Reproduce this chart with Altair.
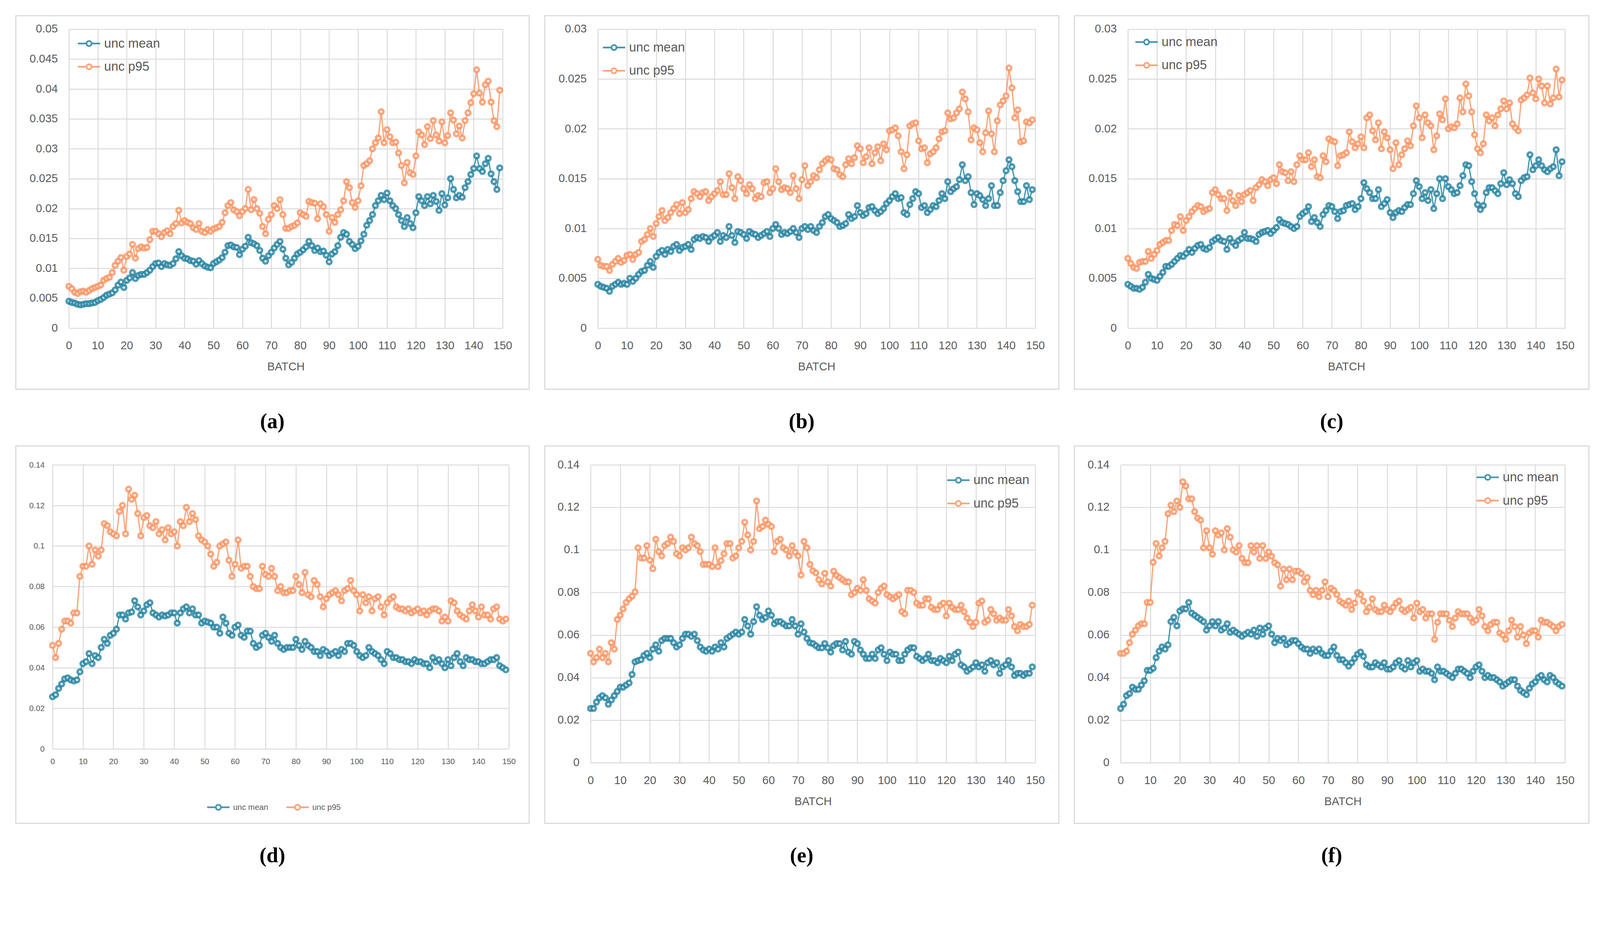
import altair as alt
import pandas as pd

BATCH = list(range(150))
SERIES = ["unc mean", "unc p95"]
X_TICKS = [0, 10, 20, 30, 40, 50, 60, 70, 80, 90, 100, 110, 120, 130, 140, 150]
Y_TICKS_A = [0, 0.005, 0.01, 0.015, 0.02, 0.025, 0.03, 0.035, 0.04, 0.045, 0.05]
Y_TICKS_B = [0, 0.005, 0.01, 0.015, 0.02, 0.025, 0.03]
Y_TICKS_D = [0, 0.02, 0.04, 0.06, 0.08, 0.1, 0.12, 0.14]
LABELS = ["(a)", "(b)", "(c)", "(d)", "(e)", "(f)"]

A_MEAN = [
    .0045, .0043, .0042, .0040, .0039, .0040, .0041, .0041, .0042, .0043,
    .0046, .0048, .0051, .0055, .0057, .0059, .0064, .0072, .0077, .0068,
    .0080, .0084, .0093, .0083, .0088, .0090, .0090, .0093, .0097, .0103,
    .0108, .0109, .0103, .0108, .0106, .0105, .0108, .0116, .0128, .0121,
    .0117, .0116, .0113, .0112, .0107, .0113, .0108, .0104, .0102, .0101,
    .0108, .0111, .0114, .0118, .0127, .0138, .0139, .0136, .0135, .0123,
    .0132, .0137, .0152, .0143, .0141, .0138, .0130, .0117, .0112, .0121,
    .0127, .0134, .0140, .0145, .0132, .0117, .0106, .0110, .0117, .0124,
    .0127, .0131, .0136, .0145, .0138, .0130, .0134, .0128, .0129, .0122,
    .0111, .0124, .0128, .0138, .0152, .0160, .0157, .0145, .0140, .0133,
    .0137, .0146, .0157, .0172, .0180, .0190, .0205, .0213, .0222, .0215,
    .0226, .0213, .0205, .0200, .0190, .0180, .0170, .0185, .0175, .0168,
    .0193, .0220, .0213, .0205, .0220, .0208, .0222, .0212, .0197, .0225,
    .0206, .0218, .0250, .0232, .0218, .0222, .0219, .0235, .0245, .0257,
    .0267, .0288, .0267, .0262, .0275, .0284, .0258, .0245, .0232, .0268,
]
A_P95 = [
    .0070, .0066, .0060, .0058, .0061, .0062, .0060, .0063, .0066, .0068,
    .0070, .0072, .0080, .0083, .0085, .0093, .0105, .0112, .0118, .0097,
    .0120, .0124, .0140, .0117, .0133, .0136, .0134, .0135, .0148, .0162,
    .0162, .0158, .0153, .0160, .0163, .0158, .0170, .0175, .0197, .0176,
    .0180, .0177, .0175, .0168, .0165, .0175, .0162, .0160, .0165, .0162,
    .0166, .0168, .0170, .0177, .0193, .0205, .0210, .0198, .0195, .0188,
    .0195, .0200, .0232, .0198, .0215, .0200, .0192, .0170, .0158, .0182,
    .0190, .0205, .0200, .0215, .0190, .0167, .0167, .0170, .0172, .0176,
    .0193, .0190, .0187, .0212, .0210, .0209, .0183, .0208, .0203, .0190,
    .0162, .0185, .0177, .0190, .0198, .0213, .0245, .0235, .0210, .0202,
    .0213, .0238, .0272, .0275, .0280, .0300, .0310, .0318, .0362, .0310,
    .0332, .0320, .0310, .0311, .0293, .0272, .0243, .0277, .0260, .0257,
    .0288, .0328, .0323, .0307, .0337, .0317, .0347, .0323, .0313, .0345,
    .0310, .0322, .0360, .0348, .0325, .0338, .0318, .0347, .0360, .0377,
    .0392, .0432, .0393, .0378, .0407, .0413, .0378, .0347, .0337, .0398,
]
B_MEAN = [
    .0044, .0042, .0041, .0040, .0037, .0042, .0044, .0046, .0044, .0045,
    .0044, .0050, .0047, .0050, .0054, .0057, .0058, .0063, .0067, .0061,
    .0072, .0076, .0078, .0074, .0079, .0077, .0082, .0084, .0078, .0081,
    .0082, .0084, .0079, .0089, .0091, .0090, .0092, .0091, .0087, .0091,
    .0093, .0096, .0087, .0093, .0091, .0102, .0093, .0086, .0097, .0096,
    .0094, .0090, .0097, .0095, .0094, .0091, .0093, .0095, .0097, .0092,
    .0100, .0104, .0100, .0094, .0096, .0095, .0097, .0100, .0096, .0091,
    .0100, .0102, .0099, .0102, .0098, .0096, .0102, .0106, .0112, .0114,
    .0110, .0108, .0106, .0102, .0103, .0105, .0114, .0110, .0112, .0123,
    .0116, .0113, .0115, .0121, .0122, .0118, .0115, .0117, .0120, .0125,
    .0128, .0132, .0135, .0130, .0131, .0116, .0114, .0124, .0130, .0137,
    .0135, .0121, .0123, .0116, .0119, .0123, .0122, .0128, .0135, .0130,
    .0147, .0137, .0140, .0142, .0149, .0164, .0148, .0152, .0136, .0124,
    .0135, .0133, .0129, .0123, .0130, .0143, .0123, .0123, .0136, .0148,
    .0158, .0169, .0162, .0148, .0137, .0127, .0127, .0143, .0129, .0139,
]
B_P95 = [
    .0069, .0063, .0062, .0062, .0058, .0064, .0067, .0070, .0066, .0068,
    .0073, .0074, .0069, .0074, .0076, .0087, .0089, .0094, .0100, .0092,
    .0105, .0112, .0118, .0108, .0111, .0116, .0120, .0124, .0115, .0126,
    .0116, .0119, .0130, .0137, .0135, .0132, .0136, .0137, .0128, .0132,
    .0135, .0138, .0147, .0134, .0134, .0155, .0141, .0130, .0152, .0148,
    .0140, .0135, .0144, .0140, .0130, .0133, .0132, .0146, .0147, .0136,
    .0140, .0160, .0147, .0139, .0141, .0140, .0136, .0153, .0140, .0130,
    .0149, .0163, .0143, .0147, .0153, .0151, .0159, .0165, .0168, .0170,
    .0169, .0160, .0159, .0154, .0152, .0164, .0170, .0165, .0171, .0183,
    .0180, .0166, .0172, .0181, .0165, .0176, .0182, .0168, .0185, .0179,
    .0198, .0199, .0201, .0193, .0177, .0160, .0174, .0203, .0205, .0206,
    .0188, .0180, .0181, .0166, .0175, .0177, .0181, .0190, .0197, .0198,
    .0216, .0210, .0211, .0216, .0220, .0237, .0230, .0217, .0189, .0201,
    .0199, .0186, .0177, .0196, .0218, .0195, .0177, .0208, .0224, .0228,
    .0233, .0261, .0241, .0211, .0219, .0187, .0188, .0207, .0206, .0209,
]
C_MEAN = [
    .0044, .0042, .0040, .0040, .0039, .0041, .0046, .0054, .0050, .0049,
    .0048, .0052, .0056, .0062, .0062, .0064, .0067, .0070, .0073, .0072,
    .0075, .0079, .0076, .0080, .0083, .0084, .0080, .0079, .0081, .0087,
    .0089, .0091, .0088, .0087, .0079, .0090, .0086, .0083, .0088, .0090,
    .0096, .0090, .0090, .0089, .0087, .0094, .0096, .0097, .0098, .0095,
    .0098, .0101, .0109, .0106, .0105, .0104, .0102, .0100, .0102, .0112,
    .0115, .0117, .0122, .0107, .0111, .0106, .0102, .0114, .0118, .0123,
    .0122, .0117, .0110, .0117, .0118, .0123, .0124, .0125, .0119, .0122,
    .0130, .0146, .0140, .0136, .0130, .0130, .0139, .0122, .0125, .0129,
    .0116, .0111, .0116, .0118, .0117, .0121, .0124, .0124, .0135, .0148,
    .0142, .0130, .0136, .0128, .0139, .0120, .0135, .0150, .0130, .0150,
    .0142, .0139, .0135, .0136, .0143, .0153, .0164, .0163, .0147, .0135,
    .0124, .0119, .0123, .0136, .0141, .0141, .0138, .0135, .0145, .0156,
    .0144, .0149, .0145, .0135, .0132, .0148, .0151, .0152, .0174, .0159,
    .0163, .0169, .0163, .0159, .0157, .0160, .0162, .0179, .0153, .0167,
]
C_P95 = [
    .0070, .0065, .0061, .0060, .0066, .0067, .0067, .0077, .0070, .0074,
    .0078, .0084, .0086, .0088, .0088, .0098, .0104, .0103, .0112, .0098,
    .0108, .0112, .0117, .0120, .0123, .0122, .0117, .0119, .0120, .0136,
    .0139, .0134, .0130, .0130, .0118, .0136, .0128, .0123, .0133, .0127,
    .0134, .0136, .0138, .0128, .0141, .0144, .0149, .0147, .0143, .0149,
    .0151, .0145, .0164, .0157, .0156, .0148, .0157, .0147, .0164, .0173,
    .0169, .0169, .0176, .0162, .0169, .0152, .0151, .0173, .0167, .0190,
    .0188, .0187, .0163, .0173, .0174, .0176, .0197, .0187, .0181, .0185,
    .0192, .0181, .0211, .0214, .0198, .0189, .0206, .0180, .0197, .0191,
    .0179, .0160, .0186, .0164, .0174, .0180, .0188, .0183, .0203, .0223,
    .0211, .0191, .0214, .0206, .0203, .0179, .0193, .0215, .0209, .0230,
    .0200, .0202, .0201, .0205, .0231, .0217, .0245, .0233, .0217, .0194,
    .0180, .0176, .0185, .0214, .0208, .0211, .0203, .0214, .0220, .0228,
    .0220, .0226, .0205, .0201, .0198, .0229, .0231, .0234, .0251, .0236,
    .0230, .0250, .0243, .0226, .0243, .0225, .0231, .0260, .0232, .0249,
]
D_MEAN = [
    .0257, .0267, .0298, .0320, .0345, .0350, .0340, .0335, .0340, .0380,
    .0420, .0430, .0470, .0420, .0460, .0450, .0500, .0540, .0520, .0560,
    .0570, .0590, .0660, .0660, .0640, .0670, .0675, .0730, .0700, .0660,
    .0680, .0710, .0720, .0670, .0660, .0650, .0660, .0655, .0660, .0670,
    .0670, .0620, .0670, .0690, .0700, .0670, .0690, .0660, .0660, .0620,
    .0630, .0625, .0620, .0600, .0600, .0570, .0650, .0620, .0570, .0560,
    .0600, .0610, .0560, .0550, .0580, .0580, .0520, .0500, .0510, .0560,
    .0570, .0550, .0530, .0560, .0520, .0500, .0490, .0500, .0500, .0500,
    .0540, .0510, .0490, .0530, .0510, .0500, .0480, .0480, .0460, .0490,
    .0480, .0460, .0470, .0480, .0460, .0490, .0480, .0520, .0520, .0510,
    .0480, .0460, .0450, .0460, .0500, .0480, .0470, .0460, .0440, .0420,
    .0480, .0470, .0450, .0450, .0440, .0440, .0430, .0430, .0420, .0440,
    .0430, .0430, .0420, .0420, .0400, .0450, .0430, .0440, .0420, .0400,
    .0440, .0410, .0450, .0470, .0430, .0410, .0450, .0440, .0440, .0430,
    .0430, .0420, .0420, .0430, .0440, .0440, .0450, .0410, .0400, .0390,
]
D_P95 = [
    .0510, .0450, .0520, .0590, .0630, .0630, .0620, .0670, .0670, .0850,
    .0900, .0900, .1000, .0910, .0980, .0950, .0980, .1110, .1100, .1070,
    .1060, .1050, .1170, .1200, .1060, .1280, .1230, .1250, .1160, .1050,
    .1140, .1150, .1100, .1090, .1120, .1060, .1080, .1030, .1090, .1060,
    .1070, .1000, .1120, .1100, .1190, .1120, .1160, .1130, .1050, .1030,
    .1020, .1000, .0960, .0900, .0920, .1000, .1010, .1020, .0930, .0850,
    .0910, .1030, .0890, .0900, .0900, .0850, .0800, .0790, .0790, .0900,
    .0860, .0850, .0890, .0850, .0780, .0800, .0770, .0770, .0780, .0780,
    .0850, .0810, .0770, .0870, .0760, .0750, .0830, .0810, .0750, .0700,
    .0740, .0760, .0770, .0780, .0760, .0730, .0780, .0790, .0830, .0780,
    .0760, .0680, .0760, .0720, .0750, .0680, .0740, .0750, .0700, .0660,
    .0720, .0740, .0750, .0700, .0690, .0690, .0680, .0690, .0670, .0680,
    .0690, .0670, .0680, .0660, .0680, .0690, .0690, .0680, .0630, .0650,
    .0630, .0730, .0720, .0680, .0660, .0650, .0640, .0680, .0710, .0680,
    .0650, .0700, .0660, .0660, .0640, .0690, .0700, .0640, .0630, .0640,
]
E_MEAN = [
    .0255, .0255, .0285, .0305, .0315, .0305, .0275, .0295, .0315, .0335,
    .0355, .0355, .0365, .0375, .0415, .0474, .0480, .0484, .0504, .0514,
    .0494, .0534, .0554, .0524, .0574, .0584, .0584, .0584, .0564, .0544,
    .0554, .0584, .0604, .0604, .0594, .0604, .0574, .0544, .0530, .0524,
    .0534, .0524, .0544, .0534, .0564, .0544, .0584, .0594, .0604, .0614,
    .0604, .0614, .0673, .0643, .0604, .0663, .0733, .0693, .0673, .0683,
    .0713, .0693, .0653, .0663, .0663, .0653, .0643, .0643, .0673, .0643,
    .0604, .0653, .0614, .0584, .0564, .0560, .0550, .0540, .0540, .0560,
    .0540, .0520, .0550, .0560, .0560, .0530, .0570, .0520, .0510, .0570,
    .0560, .0530, .0510, .0490, .0490, .0510, .0490, .0530, .0540, .0510,
    .0480, .0520, .0510, .0510, .0480, .0480, .0510, .0530, .0540, .0540,
    .0500, .0490, .0480, .0490, .0510, .0480, .0480, .0470, .0490, .0480,
    .0470, .0500, .0480, .0510, .0520, .0460, .0450, .0430, .0440, .0450,
    .0470, .0450, .0460, .0430, .0470, .0480, .0460, .0470, .0420, .0450,
    .0460, .0480, .0450, .0410, .0420, .0420, .0410, .0420, .0420, .0450,
]
E_P95 = [
    .0514, .0474, .0494, .0534, .0494, .0514, .0474, .0564, .0534, .0673,
    .0693, .0723, .0753, .0770, .0783, .0803, .1010, .0962, .0962, .1020,
    .0952, .0912, .1050, .0992, .0972, .1020, .1030, .1060, .1040, .0982,
    .0972, .1010, .1000, .1010, .1060, .1030, .1020, .0992, .0932, .0932,
    .0932, .0922, .1010, .0922, .0950, .0982, .1030, .1030, .0962, .0972,
    .1010, .1040, .1130, .1070, .1000, .1040, .1230, .1100, .1110, .1140,
    .1120, .1110, .0992, .1040, .1050, .1010, .1000, .0972, .1020, .0990,
    .0972, .0882, .1040, .1010, .0932, .0902, .0892, .0860, .0840, .0890,
    .0850, .0830, .0900, .0880, .0870, .0860, .0850, .0850, .0790, .0800,
    .0820, .0810, .0860, .0810, .0770, .0760, .0750, .0800, .0820, .0830,
    .0790, .0780, .0770, .0780, .0790, .0710, .0700, .0810, .0810, .0800,
    .0750, .0740, .0740, .0770, .0770, .0730, .0720, .0720, .0740, .0750,
    .0690, .0750, .0730, .0720, .0720, .0740, .0710, .0680, .0660, .0640,
    .0660, .0750, .0760, .0660, .0670, .0720, .0700, .0670, .0680, .0670,
    .0670, .0720, .0690, .0640, .0620, .0650, .0640, .0640, .0650, .0740,
]
F_MEAN = [
    .0255, .0275, .0315, .0325, .0355, .0345, .0345, .0365, .0385, .0434,
    .0434, .0444, .0494, .0524, .0544, .0534, .0554, .0663, .0683, .0643,
    .0713, .0723, .0723, .0753, .0703, .0693, .0683, .0673, .0663, .0623,
    .0643, .0663, .0643, .0663, .0623, .0633, .0653, .0613, .0623, .0613,
    .0604, .0594, .0604, .0613, .0604, .0623, .0594, .0633, .0604, .0633,
    .0643, .0604, .0564, .0584, .0574, .0584, .0554, .0564, .0574, .0574,
    .0560, .0544, .0534, .0534, .0514, .0534, .0524, .0534, .0514, .0504,
    .0504, .0524, .0544, .0504, .0484, .0484, .0470, .0454, .0470, .0490,
    .0510, .0520, .0500, .0460, .0450, .0450, .0470, .0460, .0450, .0470,
    .0440, .0440, .0450, .0470, .0480, .0450, .0440, .0480, .0450, .0470,
    .0480, .0430, .0440, .0430, .0430, .0420, .0390, .0450, .0430, .0430,
    .0420, .0410, .0400, .0420, .0440, .0440, .0430, .0420, .0400, .0430,
    .0450, .0460, .0430, .0400, .0410, .0400, .0400, .0390, .0380, .0360,
    .0370, .0380, .0390, .0390, .0360, .0340, .0330, .0320, .0350, .0370,
    .0380, .0400, .0410, .0390, .0380, .0410, .0400, .0380, .0370, .0360,
]
F_P95 = [
    .0514, .0514, .0524, .0564, .0604, .0623, .0643, .0653, .0653, .0753,
    .0753, .0942, .1030, .0972, .1010, .1040, .1170, .1210, .1180, .1230,
    .1200, .1320, .1300, .1240, .1240, .1180, .1150, .1140, .1010, .1090,
    .1010, .0980, .1090, .1070, .1080, .1000, .1100, .1060, .1000, .0990,
    .1020, .0960, .0940, .0940, .1020, .0990, .1020, .0960, .1020, .0960,
    .0990, .0970, .0940, .0930, .0830, .0910, .0860, .0910, .0860, .0900,
    .0900, .0890, .0850, .0870, .0810, .0790, .0810, .0780, .0810, .0850,
    .0780, .0820, .0810, .0790, .0760, .0750, .0740, .0760, .0720, .0750,
    .0800, .0790, .0760, .0710, .0730, .0770, .0720, .0710, .0710, .0740,
    .0720, .0710, .0730, .0750, .0760, .0720, .0710, .0720, .0730, .0680,
    .0750, .0710, .0720, .0680, .0700, .0700, .0580, .0660, .0700, .0700,
    .0700, .0670, .0640, .0680, .0710, .0700, .0700, .0700, .0680, .0660,
    .0670, .0720, .0690, .0640, .0620, .0650, .0660, .0660, .0610, .0600,
    .0580, .0620, .0670, .0640, .0590, .0640, .0600, .0560, .0610, .0620,
    .0620, .0590, .0670, .0660, .0660, .0650, .0640, .0620, .0640, .0650,
]

TEAL = "#3089A6"
ORANGE = "#FB9A6A"
GRID = "#D9D9D9"
TXT = "#595959"
SANS = "Liberation Sans"
SERIF = "Liberation Serif"
SYMBOL = "M-2.2,0H-0.5M0.5,0H2.2M0.5,0A0.5,0.5,0,1,1,-0.5,0A0.5,0.5,0,1,1,0.5,0"


def make_panel(mean, p95, y_max, y_ticks, w, h, box, label, label_xy,
               leg, fs, xtitle):
    n = len(BATCH)
    df = pd.DataFrame({
        "BATCH": BATCH + BATCH,
        "value": mean + p95,
        "series": [SERIES[0]] * n + [SERIES[1]] * n,
    })
    legend = alt.Legend(
        title=None, orient="none", legendX=leg["x"], legendY=leg["y"],
        direction=leg["dir"], columns=leg["cols"], symbolType=SYMBOL,
        symbolSize=784, symbolStrokeWidth=4.5, symbolFillColor="white",
        labelFont=SANS, labelFontSize=leg["fs"], labelColor=TXT,
        labelOffset=24, rowPadding=leg["rowpad"], columnPadding=leg["colpad"],
        padding=0, symbolOpacity=0.9,
    )
    color = alt.Color("series:N", legend=legend,
                      scale=alt.Scale(domain=SERIES, range=[TEAL, ORANGE]))
    xaxis = alt.Axis(values=X_TICKS, grid=True, gridColor=GRID, gridWidth=2.5,
                     domain=False, ticks=False, labelFont=SANS, labelFontSize=fs,
                     labelColor=TXT, labelPadding=fs * 1.1, title=xtitle,
                     titleFont=SANS, titleFontSize=fs, titleFontWeight="normal",
                     titleColor=TXT, titlePadding=fs * 0.9, labelFlush=False)
    yaxis = alt.Axis(values=y_ticks, grid=True, gridColor=GRID, gridWidth=2.5,
                     domain=False, ticks=False, labelFont=SANS, labelFontSize=fs,
                     labelColor=TXT, labelPadding=fs, title=None, format="~r",
                     labelFlush=False)
    base = alt.Chart(df).encode(
        x=alt.X("BATCH:Q", scale=alt.Scale(domain=[0, 150], nice=False), axis=xaxis),
        y=alt.Y("value:Q", scale=alt.Scale(domain=[0, y_max], nice=False), axis=yaxis),
        color=color,
    )
    lines = base.mark_line(strokeWidth=3.5, opacity=0.9)
    pts = base.mark_point(filled=False, fill="white", fillOpacity=1, size=170,
                          strokeWidth=6.5, opacity=0.85)
    frame = alt.Chart(pd.DataFrame({"k": [0]})).mark_rect(
        fillOpacity=0, stroke=GRID, strokeWidth=3
    ).encode(x=alt.value(box[0]), x2=alt.value(box[1]),
             y=alt.value(box[2]), y2=alt.value(box[3]))
    tag = alt.Chart(pd.DataFrame({"t": [label]})).mark_text(
        font=SERIF, fontWeight="bold", fontSize=58, color="black",
        align="center", baseline="middle"
    ).encode(x=alt.value(label_xy[0]), y=alt.value(label_xy[1]), text="t:N")
    return alt.layer(frame, lines, pts, tag).properties(width=w, height=h)


def spacer():
    return alt.Chart(pd.DataFrame({"k": [0]})).mark_point(opacity=0).encode(
        x=alt.value(0), y=alt.value(0)
    ).properties(width=1, height=1)


LEG_TL = dict(dir="vertical", cols=1, fs=35, rowpad=28, colpad=10)

pa = make_panel(A_MEAN, A_P95, 0.05, Y_TICKS_A, 1194, 823, (-146, 1267, -37, 991),
                LABELS[0], (560, 1081), dict(LEG_TL, x=38, y=22), 31, "BATCH")
pb = make_panel(B_MEAN, B_P95, 0.03, Y_TICKS_B, 1204, 823, (-146, 1269, -37, 991),
                LABELS[1], (561, 1081), dict(LEG_TL, x=27, y=33), 31, "BATCH")
pc = make_panel(C_MEAN, C_P95, 0.03, Y_TICKS_B, 1203, 823, (-147, 1269, -37, 991),
                LABELS[2], (561, 1081), dict(LEG_TL, x=34, y=18), 31, "BATCH")
pd_ = make_panel(D_MEAN, D_P95, 0.14, Y_TICKS_D, 1256, 782, (-101, 1312, -52, 987),
                 LABELS[3], (605, 1077),
                 dict(dir="horizontal", cols=2, fs=22, rowpad=10, colpad=40, x=440, y=926),
                 22, "")
pe = make_panel(E_MEAN, E_P95, 0.14, Y_TICKS_D, 1224, 820, (-126, 1289, -52, 987),
                LABELS[4], (581, 1077), dict(LEG_TL, x=995, y=25), 31, "BATCH")
pf = make_panel(F_MEAN, F_P95, 0.14, Y_TICKS_D, 1223, 820, (-127, 1289, -52, 987),
                LABELS[5], (581, 1077), dict(LEG_TL, x=993, y=17), 31, "BATCH")

row1 = alt.hconcat(spacer(), pa, pb, pc, spacing=39).resolve_scale(color="independent")
row2 = alt.hconcat(spacer(), pd_, pe, pf, spacing=39).resolve_scale(color="independent")
chart = alt.vconcat(row1, row2, spacing=34).resolve_scale(
    color="independent"
).properties(
    autosize=alt.AutoSizeParams(type="none"),
    padding={"left": -10, "top": -19, "right": 4397, "bottom": 2427},
    background="white",
).configure_view(stroke="transparent")

chart.save("out.html", embed_options={"renderer": "svg", "actions": False})
